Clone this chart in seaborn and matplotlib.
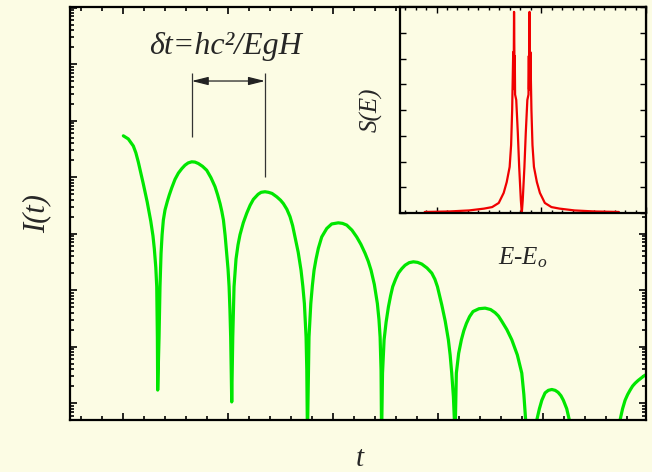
import numpy as np
import matplotlib
matplotlib.use("Agg")
import matplotlib.pyplot as plt
import seaborn as sns
from matplotlib.ticker import LogLocator, MultipleLocator, NullFormatter

# ============================================================
# DATA
# ============================================================

# main panel: time t and log10 of intensity I(t)
t_vals = [
    # first (partial) arch
    0.003, 0.050, 0.098, 0.122, 0.145, 0.193, 0.230, 0.264, 0.285, 0.298,
    0.312, 0.321, 0.327, 0.330,
    # arch 1
    0.343, 0.352, 0.362, 0.372, 0.384, 0.400, 0.422, 0.440, 0.464, 0.495,
    0.527, 0.560, 0.590, 0.620, 0.654, 0.685, 0.717, 0.757, 0.797, 0.837,
    0.876, 0.900, 0.924, 0.941, 0.956, 0.972, 0.987, 1.000, 1.010, 1.018,
    1.025, 1.035,
    # arch 2
    1.045, 1.057, 1.076, 1.095, 1.114, 1.145, 1.178, 1.210, 1.241, 1.286,
    1.315, 1.352, 1.385, 1.419, 1.464, 1.500, 1.527, 1.560, 1.590, 1.615,
    1.638, 1.668, 1.695, 1.712, 1.727, 1.743, 1.750, 1.756,
    # arch 3
    1.771, 1.788, 1.803, 1.819, 1.838, 1.860, 1.892, 1.940, 1.987, 2.050,
    2.090, 2.130, 2.180, 2.225, 2.265, 2.305, 2.335, 2.362, 2.393, 2.422,
    2.437, 2.448, 2.457, 2.462,
    # arch 4
    2.471, 2.486, 2.505, 2.527, 2.548, 2.568, 2.595, 2.622, 2.655, 2.686,
    2.725, 2.765, 2.805, 2.845, 2.895, 2.940, 2.970, 2.994, 3.015, 3.035,
    3.068, 3.098, 3.115, 3.130, 3.146, 3.162,
    # arch 5
    3.174, 3.196, 3.222, 3.245, 3.270, 3.300, 3.333, 3.390, 3.448, 3.500,
    3.543, 3.575, 3.606, 3.655, 3.702, 3.755, 3.797, 3.817, 3.835, 3.890,
    # arch 6
    3.940, 3.965, 3.988, 4.019, 4.050, 4.083, 4.115, 4.143, 4.170, 4.193,
    4.225, 4.250, 4.490,
    # arch 7 (rising at the right edge)
    4.733, 4.757, 4.781, 4.805, 4.829, 4.852, 4.876, 4.905, 4.933, 4.960,
    4.988,
]
log_I = [
    4.73, 4.675, 4.55, 4.43, 4.27, 3.88, 3.56, 3.22, 2.96, 2.73,
    2.40, 2.06, 1.17, 0.23,
    1.17, 2.06, 2.65, 2.98, 3.24, 3.42, 3.57, 3.68, 3.81, 3.96,
    4.07, 4.15, 4.21, 4.25, 4.27, 4.265, 4.24, 4.19, 4.12, 3.99,
    3.83, 3.69, 3.53, 3.39, 3.24, 2.97, 2.65, 2.37, 2.06, 1.65,
    1.17, 0.02,
    1.17, 2.06, 2.55, 2.80, 2.98, 3.19, 3.36, 3.50, 3.605, 3.695,
    3.73, 3.74, 3.73, 3.71, 3.65, 3.59, 3.53, 3.43, 3.30, 3.14,
    2.94, 2.67, 2.35, 2.07, 1.76, 1.17, 0.58, -0.60,
    1.17, 1.76, 2.08, 2.35, 2.55, 2.74, 2.94, 3.09, 3.17, 3.19,
    3.18, 3.15, 3.06, 2.94, 2.81, 2.65, 2.51, 2.35, 2.10, 1.76,
    1.48, 1.17, 0.58, -0.60,
    0.53, 1.12, 1.43, 1.70, 1.90, 2.06, 2.19, 2.30, 2.38, 2.44,
    2.485, 2.50, 2.49, 2.46, 2.39, 2.30, 2.19, 2.06, 1.90, 1.74,
    1.45, 1.12, 0.85, 0.53, 0.11, -0.60,
    0.53, 0.88, 1.12, 1.28, 1.41, 1.53, 1.62, 1.67, 1.68, 1.655,
    1.60, 1.54, 1.45, 1.30, 1.12, 0.85, 0.53, 0.15, -0.33, -1.00,
    -0.30, -0.10, 0.05, 0.18, 0.225, 0.24, 0.225, 0.19, 0.13, 0.05,
    -0.10, -0.30, -1.00,
    -0.30, -0.10, 0.05, 0.15, 0.23, 0.30, 0.35, 0.40, 0.44, 0.48,
    0.51,
]

# inset: energy E-Eo (left half) and spectrum S(E)
e_left = [
    -0.927, -0.692, -0.503, -0.361, -0.283, -0.220, -0.173, -0.144,
    -0.116, -0.102, -0.092, -0.086, -0.082, -0.079, -0.076, -0.074,
    -0.071, -0.069, -0.067, -0.064, -0.053, -0.038, -0.025, -0.009,
]
s_left = [
    0.04, 0.06, 0.10, 0.17, 0.23, 0.39, 0.78, 1.20,
    1.79, 2.64, 4.00, 5.36, 6.25, 4.90, 6.40, 7.81,
    6.30, 4.80, 6.10, 4.60, 4.39, 3.11, 1.79, 0.50,
]
# the doublet is symmetric about the centre dip
e_vals = e_left + [0.0] + [-v for v in e_left[::-1]]
s_vals = s_left + [0.0] + s_left[::-1]

# ============================================================
# STYLE
# ============================================================

sns.set_style("ticks")

bg = "#fcfce4"
green = "#00e600"
red = "#f00000"

plt.rcParams["font.family"] = ["Liberation Serif", "DejaVu Serif"]
plt.rcParams["mathtext.fontset"] = "custom"
plt.rcParams["mathtext.rm"] = "Liberation Serif"
plt.rcParams["mathtext.it"] = "Liberation Serif:italic"

fig = plt.figure(figsize=(6.52, 4.72), dpi=100, facecolor=bg)

# ============================================================
# MAIN PANEL
# ============================================================

ax = fig.add_axes([70 / 652, 52 / 472, 576 / 652, 413 / 472])
ax.set_facecolor(bg)
ax.set_yscale("log")

I_vals = [10 ** v for v in log_I]

sns.lineplot(x=t_vals, y=I_vals, ax=ax, color=green, linewidth=2.3,
             sort=False, estimator=None, solid_joinstyle="round")

ax.set_xlim(-0.505, 4.98)
ax.set_ylim(10 ** -0.30, 10 ** 7.01)

ax.xaxis.set_major_locator(MultipleLocator(1))
ax.xaxis.set_minor_locator(MultipleLocator(0.2))
ax.yaxis.set_major_locator(LogLocator(base=10, numticks=20))
ax.yaxis.set_minor_locator(LogLocator(base=10, subs=np.arange(2, 10), numticks=20))
ax.yaxis.set_minor_formatter(NullFormatter())

ax.tick_params(which="both", direction="in", top=True, right=True,
               labelbottom=False, labelleft=False, width=1.2, color="black")
ax.tick_params(which="major", length=5)
ax.tick_params(which="minor", length=3)

for sp in ax.spines.values():
    sp.set_linewidth(1.6)
    sp.set_color("black")

ax.set_xlabel("t", fontsize=21, style="italic")
ax.xaxis.set_label_coords(0.503, -0.062)
ax.set_ylabel("I(t)", fontsize=22, style="italic")
ax.yaxis.set_label_coords(-0.032, 0.5)

# ============================================================
# BEAT PERIOD ANNOTATION
# ============================================================

t_arr = np.array(t_vals)
L_arr = np.array(log_I)
first = (t_arr > 0.4) & (t_arr < 1.0)
second = (t_arr > 1.1) & (t_arr < 1.7)
t_peak1 = t_arr[first][np.argmax(L_arr[first])]
t_peak2 = t_arr[second][np.argmax(L_arr[second])]

ax.vlines(t_peak1, 10 ** 4.71, 10 ** 5.84, color="#333333", linewidth=0.9)
ax.vlines(t_peak2, 10 ** 4.00, 10 ** 5.84, color="#333333", linewidth=0.9)
ax.annotate("", xy=(t_peak1, 10 ** 5.70), xytext=(t_peak2, 10 ** 5.70),
            arrowprops=dict(arrowstyle="<|-|>,head_length=1.0,head_width=0.25",
                            color="#222222", linewidth=0.9,
                            shrinkA=0, shrinkB=0))

ax.text(0.269, 0.905, "δt=hc²/EgH", transform=ax.transAxes,
        fontsize=23, style="italic", ha="center", va="center")

# ============================================================
# INSET SPECTRUM
# ============================================================

ax_in = fig.add_axes([400 / 652, 259 / 472, 246 / 652, 206 / 472])
ax_in.set_facecolor(bg)

sns.lineplot(x=e_vals, y=s_vals, ax=ax_in, color=red, linewidth=1.6,
             sort=False, estimator=None)

ax_in.set_xlim(-1.163, 1.158)
ax_in.set_ylim(0, 8.0)

ax_in.set_xticks(np.arange(-0.814, 1.2, 1.0))
ax_in.set_xticks(np.arange(-1.114, 1.16, 0.1), minor=True)
ax_in.yaxis.set_major_locator(MultipleLocator(1))

ax_in.tick_params(which="both", direction="in", top=True, right=True,
                  labelbottom=False, labelleft=False, width=1.0, color="black")
ax_in.tick_params(which="major", length=4)
ax_in.tick_params(which="minor", length=2.5)

for sp in ax_in.spines.values():
    sp.set_linewidth(1.6)
    sp.set_color("black")

ax_in.set_ylabel("S(E)", fontsize=18, style="italic")
ax_in.yaxis.set_label_coords(-0.07, 0.5)
ax_in.set_xlabel("$E$-$E_o$", fontsize=18, style="italic")
ax_in.xaxis.set_label_coords(0.5, -0.155)

fig.savefig("out.png", dpi=100, facecolor=bg)
